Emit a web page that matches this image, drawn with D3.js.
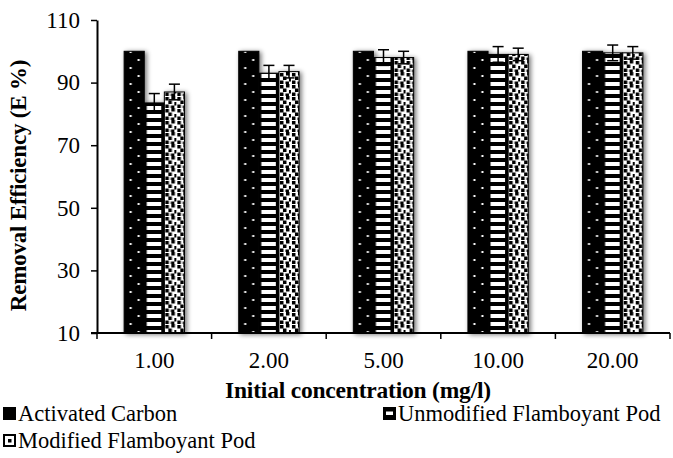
<!DOCTYPE html>
<html>
<head>
<meta charset="utf-8">
<script src="https://cdn.jsdelivr.net/npm/d3@7"></script>
<style>
  body { margin: 0; background: #fff; }
  svg { display: block; font-family: "Liberation Serif", "Times New Roman", serif; }
</style>
</head>
<body>
<div id="chart"></div>
<script>
width = 673
height = 458

// data
const categories = ["1.00", "2.00", "5.00", "10.00", "20.00"]
const seriesNames = ["Activated Carbon", "Unmodified Flamboyant Pod", "Modified Flamboyant Pod"]
const activatedCarbon = [100, 100, 100, 100, 100]
const unmodifiedPod = [83.5, 93, 98, 99, 99.5]
const modifiedPod = [87, 93.5, 98, 99, 99.5]
const unmodifiedErr = [3, 2.5, 2.5, 2.5, 2.5]
const modifiedErr = [2.5, 2, 2, 2, 2]
const yTicks = [10, 30, 50, 70, 90, 110]

const values = [activatedCarbon, unmodifiedPod, modifiedPod]
const errors = [null, unmodifiedErr, modifiedErr]
const fills = ["url(#dots)", "url(#stripes)", "url(#confetti)"]

let svg = d3.select("#chart")
  .append("svg")
  .attr("width", width)
  .attr("height", height)

const plotLeft = 97, plotRight = 670, plotTop = 20, plotBottom = 333

// patterns, one per series
let defs = svg.append("defs")

let dots = defs.append("pattern").attr("id", "dots")
  .attr("patternUnits", "userSpaceOnUse").attr("width", 20).attr("height", 16)
dots.append("rect").attr("width", 20).attr("height", 16).attr("fill", "#000")
dots.append("rect").attr("x", 5.5).attr("y", 3).attr("width", 2).attr("height", 2).attr("fill", "#fff")
dots.append("rect").attr("x", 13.5).attr("y", 11).attr("width", 2).attr("height", 2).attr("fill", "#fff")

let stripes = defs.append("pattern").attr("id", "stripes")
  .attr("patternUnits", "userSpaceOnUse").attr("width", 20).attr("height", 8)
stripes.append("rect").attr("width", 20).attr("height", 8).attr("fill", "#000")
stripes.append("rect").attr("x", 2.5).attr("y", 2).attr("width", 14.5).attr("height", 4).attr("fill", "#fff")

let confetti = defs.append("pattern").attr("id", "confetti")
  .attr("patternUnits", "userSpaceOnUse").attr("width", 12).attr("height", 12)
confetti.append("rect").attr("width", 12).attr("height", 12).attr("fill", "#fff")
;[[1, 1], [7, 0], [4, 4.5], [10, 6], [1, 8.5], [6.5, 9.5]].forEach(p => {
  confetti.append("rect").attr("x", p[0]).attr("y", p[1]).attr("width", 3.5).attr("height", 3.5).attr("fill", "#000")
})

let shadow = defs.append("filter").attr("id", "shadow")
  .attr("x", "-30%").attr("y", "-10%").attr("width", "160%").attr("height", "120%")
shadow.append("feGaussianBlur").attr("in", "SourceAlpha").attr("stdDeviation", 2.5).attr("result", "blur")
shadow.append("feOffset").attr("in", "blur").attr("dx", 2).attr("dy", 1).attr("result", "off")
shadow.append("feComponentTransfer").attr("in", "off").attr("result", "soft")
  .append("feFuncA").attr("type", "linear").attr("slope", 0.55)
let merge = shadow.append("feMerge")
merge.append("feMergeNode").attr("in", "soft")
merge.append("feMergeNode").attr("in", "SourceGraphic")

// scales
let x = d3.scaleBand().domain(categories).range([plotLeft, plotRight]).padding(0)
let x1 = d3.scaleBand().domain(d3.range(seriesNames.length))
  .range([0, x.bandwidth()]).paddingInner(0).paddingOuter(1.35)
let y = d3.scaleLinear().domain([10, 110]).range([plotBottom, plotTop])

// bars
let groups = svg.selectAll("g.cat")
  .data(categories)
  .enter().append("g")
  .attr("class", "cat")
  .attr("transform", d => `translate(${x(d)},0)`)
  .attr("filter", "url(#shadow)")

groups.each(function(cat, ci) {
  let g = d3.select(this)
  seriesNames.forEach((s, si) => {
    let bar = g.append("g").attr("transform", `translate(${x1(si)},0)`)
    bar.append("rect")
      .attr("x", 0)
      .attr("y", y(values[si][ci]))
      .attr("width", x1.bandwidth())
      .attr("height", y(10) - y(values[si][ci]))
      .attr("fill", fills[si])
      .attr("stroke", "#000")
      .attr("stroke-width", 1)
  })
})

// error bars
seriesNames.forEach((s, si) => {
  if (!errors[si]) return
  categories.forEach((cat, ci) => {
    let cx = x(cat) + x1(si) + x1.bandwidth() / 2
    let v = values[si][ci], e = errors[si][ci]
    let eb = svg.append("g").attr("stroke", "#000").attr("stroke-width", 1.5)
    eb.append("line").attr("x1", cx).attr("x2", cx).attr("y1", y(v + e)).attr("y2", y(v - e))
    eb.append("line").attr("x1", cx - 5.5).attr("x2", cx + 5.5).attr("y1", y(v + e)).attr("y2", y(v + e))
    eb.append("line").attr("x1", cx - 5.5).attr("x2", cx + 5.5).attr("y1", y(v - e)).attr("y2", y(v - e))
  })
})

// y axis
let yAxis = svg.append("g")
  .attr("transform", `translate(${plotLeft},0)`)
  .call(d3.axisLeft(y).tickValues(yTicks).tickSize(6).tickPadding(11).tickSizeOuter(0))
yAxis.select(".domain").attr("stroke-width", 2)
yAxis.selectAll(".tick line").attr("stroke-width", 1.5)
yAxis.selectAll("text").style("font-size", "23px").style("font-family", "Liberation Serif").attr("fill", "#000")

// x axis
let xAxis = svg.append("g")
  .attr("transform", `translate(0,${plotBottom})`)
  .call(d3.axisBottom(x).tickSize(0).tickPadding(19).tickSizeOuter(0))
xAxis.select(".domain").attr("stroke-width", 2).attr("d", `M${plotLeft - 6},0H${plotRight}`)
xAxis.selectAll("text").style("font-size", "23px").style("font-family", "Liberation Serif").attr("fill", "#000")
xAxis.selectAll("line.bound")
  .data(categories.map(c => x(c)).concat([x.range()[1]]))
  .enter().append("line")
  .attr("class", "bound")
  .attr("x1", d => d).attr("x2", d => d)
  .attr("y1", 0).attr("y2", 6)
  .attr("stroke", "#000").attr("stroke-width", 1.5)

// axis titles
svg.append("text")
  .attr("x", 358)
  .attr("y", 398)
  .attr("text-anchor", "middle")
  .style("font-size", "23.5px")
  .style("font-weight", "bold")
  .style("letter-spacing", "-0.2px")
  .text("Initial concentration (mg/l)")

svg.append("text")
  .attr("transform", `translate(26,${(plotTop + plotBottom) / 2 + 9}) rotate(-90)`)
  .attr("text-anchor", "middle")
  .style("font-size", "23px")
  .style("font-weight", "bold")
  .style("letter-spacing", "-0.2px")
  .text("Removal Efficiency (E %)")

// legend
const legendPos = [[3, 421], [383, 421], [3, 448]]
seriesNames.forEach((s, si) => {
  let lg = svg.append("g").attr("transform", `translate(${legendPos[si][0]},${legendPos[si][1]})`)
  lg.append("rect").attr("x", 0).attr("y", -14).attr("width", 13).attr("height", 13).attr("fill", "#000")
  if (si == 1) {
    lg.append("rect").attr("x", 3).attr("y", -9.5).attr("width", 7).attr("height", 3.5).attr("fill", "#fff")
  }
  if (si == 2) {
    lg.append("rect").attr("x", 2).attr("y", -12).attr("width", 9).attr("height", 9).attr("fill", "#fff")
    lg.append("rect").attr("x", 5).attr("y", -9).attr("width", 3.5).attr("height", 3.5).attr("fill", "#000")
  }
  lg.append("text")
    .attr("x", 15)
    .attr("y", 0)
    .style("font-size", "22.5px")
    .text(s)
})
</script>
</body>
</html>
